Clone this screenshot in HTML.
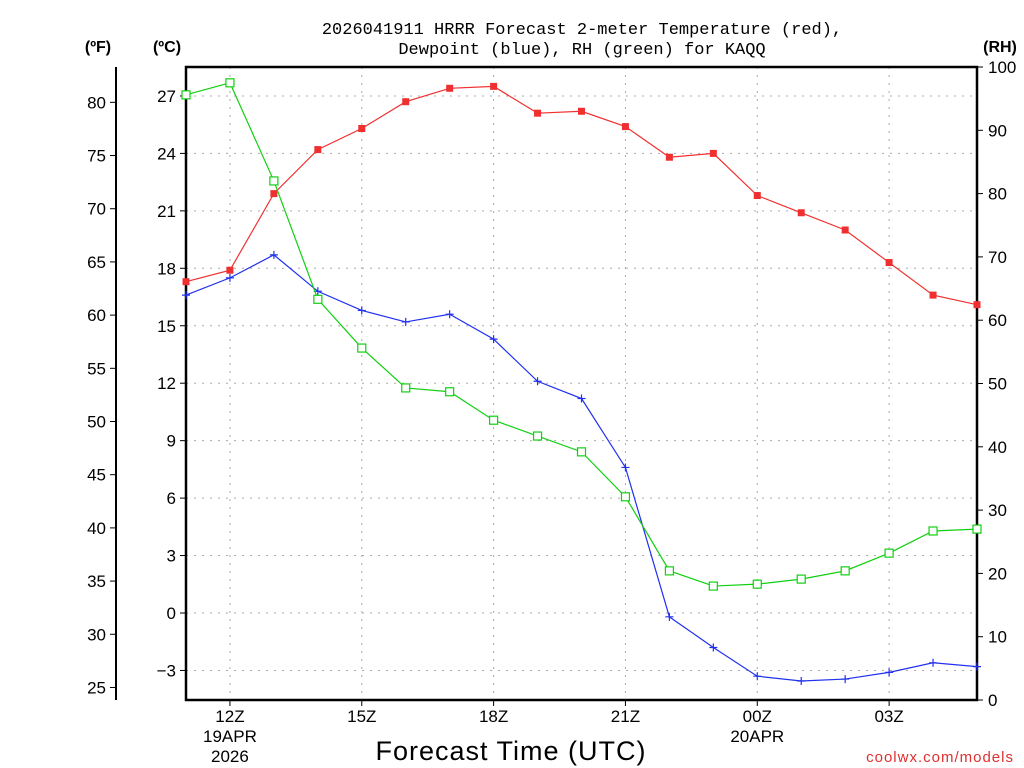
<!DOCTYPE html>
<html><head><meta charset="utf-8"><style>
body{margin:0;background:#fff}
svg{display:block;font-family:"Liberation Sans",sans-serif}
</style></head><body>
<svg id="c" width="1024" height="768" viewBox="0 0 1024 768" xmlns="http://www.w3.org/2000/svg">
<g font-size="17" text-anchor="middle" fill="#000" font-family="Liberation Mono, monospace">
<text x="582" y="34">2026041911 HRRR Forecast 2-meter Temperature (red),</text>
<text x="582" y="54">Dewpoint (blue), RH (green) for KAQQ</text>
</g>
<text x="98" y="52" font-size="16" font-weight="bold" text-anchor="middle">(ºF)</text>
<text x="167" y="52" font-size="16" font-weight="bold" text-anchor="middle">(ºC)</text>
<text x="1000" y="52" font-size="16" font-weight="bold" text-anchor="middle">(RH)</text>
<text x="511" y="760" font-size="27" text-anchor="middle" letter-spacing="1">Forecast Time (UTC)</text>
<text x="1014" y="762" font-size="15" fill="#e03030" text-anchor="end" letter-spacing="1">coolwx.com/models</text>
<g id="grid"></g><g id="axes"></g><g id="series"></g>
</svg>
<script>
const hours=[11,12,13,14,15,16,17,18,19,20,21,22,23,24,25,26,27,28,29];
const tempC=[17.3,17.9,21.9,24.2,25.3,26.7,27.4,27.5,26.1,26.2,25.4,23.8,24.0,21.8,20.9,20.0,18.3,16.6,16.1];
const dewC=[16.6,17.5,18.7,16.8,15.8,15.2,15.6,14.3,12.1,11.2,7.6,-0.2,-1.8,-3.3,-3.55,-3.45,-3.1,-2.6,-2.8];
const rh=[95.6,97.5,82.0,63.3,55.6,49.3,48.7,44.2,41.7,39.2,32.1,20.4,18.0,18.3,19.1,20.4,23.2,26.7,27.0];
const cTicks=[-3,0,3,6,9,12,15,18,21,24,27];
const fTicks=[25,30,35,40,45,50,55,60,65,70,75,80];
const rhTicks=[0,10,20,30,40,50,60,70,80,90,100];
const xTickHours=[12,15,18,21,24,27];
const xTickLabels=["12Z","15Z","18Z","21Z","00Z","03Z"];
const xSub={12:["19APR","2026"],24:["20APR"]};
const L=186,R=977,T=67,B=700;
const X=h=>L+(h-11)*(R-L)/18;
const YC=c=>613-c*19.15;
const YF=f=>YC((f-32)*5/9);
const YR=r=>B-r*(B-T)/100;
const NS="http://www.w3.org/2000/svg";
function mk(p,tag,at,txt){const e=document.createElementNS(NS,tag);for(const k in at)e.setAttribute(k,at[k]);if(txt!==undefined)e.textContent=txt;p.appendChild(e);return e;}
const g=document.getElementById('grid'),a=document.getElementById('axes'),s=document.getElementById('series');
cTicks.forEach(c=>{const y=YC(c);
 const l=mk(g,'line',{x1:L,x2:R,y1:y,y2:y,stroke:'#aaa','stroke-dasharray':'2,6'});
 
 
 mk(a,'line',{x1:L-6,x2:L,y1:y,y2:y,stroke:'#000'});
 const t=mk(a,'text',{x:L-10,y:y+6,'font-size':17,'text-anchor':'end'},c<0?'\u2212'+(-c):String(c));
 
 });
fTicks.forEach(f=>{const y=YF(f);
 mk(a,'line',{x1:110,x2:116,y1:y,y2:y,stroke:'#000'});
 const t=mk(a,'text',{x:106,y:y+6,'font-size':17,'text-anchor':'end'},String(f));
 
 });
rhTicks.forEach(r=>{const y=YR(r);
 mk(a,'line',{x1:R,x2:R+6,y1:y,y2:y,stroke:'#000'});
 const t=mk(a,'text',{x:988,y:y+6,'font-size':17},String(r));
 
 });
xTickHours.forEach((h,i)=>{const x=X(h);
 const l=mk(g,'line',{x1:x,x2:x,y1:T,y2:B,stroke:'#aaa','stroke-dasharray':'2,6'});
 
 
 mk(a,'line',{x1:x,x2:x,y1:B,y2:B+6,stroke:'#000'});
 const t=mk(a,'text',{x:x,y:722,'font-size':17,'text-anchor':'middle'},xTickLabels[i]);
 
 
 (xSub[h]||[]).forEach((sl,j)=>mk(a,'text',{x:x,y:742+j*20,'font-size':17,'text-anchor':'middle'},sl));});
mk(a,'rect',{x:L,y:T,width:R-L,height:B-T,fill:'none',stroke:'#000','stroke-width':2.5});
mk(a,'line',{x1:116,x2:116,y1:T,y2:B,stroke:'#000','stroke-width':2});
function series(vals,yf,color,marker,name){
 const pts=vals.map((v,i)=>[X(hours[i]),yf(v)]);
 const p=mk(s,'polyline',{points:pts.map(q=>q.join(',')).join(' '),fill:'none',stroke:color,'stroke-width':1.2});
 
 
 pts.forEach(([x,y])=>{let m;
  if(marker==='fill')m=mk(s,'rect',{x:x-3.5,y:y-3.5,width:7,height:7,fill:color});
  else if(marker==='open')m=mk(s,'rect',{x:x-4,y:y-4,width:8,height:8,fill:'#fff',stroke:color,'stroke-width':1.2});
  else m=mk(s,'path',{d:`M${x-4} ${y}H${x+4}M${x} ${y-4}V${y+4}`,stroke:color,'stroke-width':1.2});
  
  });}
series(tempC,YC,'#f03030','fill','temperature');
series(dewC,YC,'#2030f0','plus','dewpoint');
series(rh,YR,'#10d010','open','rh');
</script>
</body></html>
